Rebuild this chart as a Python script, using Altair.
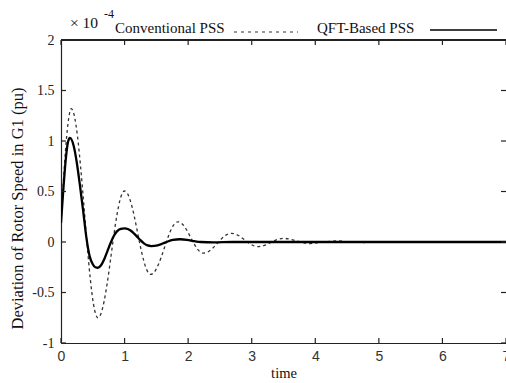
import altair as alt
import pandas as pd

# ---- data (values in units of 1e-4 pu) ----
time_conv = [0, 0.04, 0.08, 0.12, 0.16, 0.21, 0.26, 0.31, 0.36, 0.41, 0.46, 0.51, 0.58,
             0.63, 0.68, 0.73, 0.78, 0.83, 0.88, 0.93, 1.0,
             1.05, 1.10, 1.15, 1.20, 1.25, 1.30, 1.35, 1.41,
             1.47, 1.53, 1.59, 1.65, 1.71, 1.77, 1.84,
             1.89, 1.94, 1.99, 2.04, 2.09, 2.14, 2.19, 2.24,
             2.31, 2.38, 2.46, 2.53, 2.60, 2.68,
             2.75, 2.82, 2.89, 2.96, 3.03, 3.10,
             3.20, 3.30, 3.40, 3.50, 3.60, 3.71, 3.82, 3.92,
             4.13, 4.35, 4.55, 4.75, 5.0, 5.5, 6.0, 7.0]
val_conv = [0.19, 0.62, 0.98, 1.22, 1.32, 1.249, 1.044, 0.734, 0.363, -0.02, -0.36, -0.611, -0.75,
            -0.707, -0.582, -0.395, -0.17, 0.063, 0.268, 0.421, 0.505,
            0.475, 0.39, 0.262, 0.108, -0.047, -0.182, -0.277, -0.32,
            -0.296, -0.226, -0.126, -0.013, 0.091, 0.166, 0.20,
            0.188, 0.155, 0.104, 0.045, -0.014, -0.065, -0.098, -0.11,
            -0.098, -0.065, -0.012, 0.035, 0.07, 0.086,
            0.077, 0.053, 0.02, -0.013, -0.037, -0.046,
            -0.034, -0.005, 0.024, 0.036, 0.028, 0.01, -0.008, -0.015,
            0.0, 0.01, 0.0, -0.005, 0.0, 0.0, 0.0, 0.0]

time_qft = [0, 0.04, 0.08, 0.11, 0.14, 0.20, 0.25, 0.30, 0.35, 0.40, 0.45, 0.50, 0.54, 0.58,
            0.63, 0.68, 0.73, 0.78, 0.83, 0.88, 0.94, 1.0,
            1.05, 1.10, 1.15, 1.20, 1.25, 1.30, 1.35, 1.42,
            1.52, 1.60, 1.68, 1.76, 1.87, 1.98, 2.10, 2.20, 2.40, 2.70,
            3.0, 4.0, 5.0, 6.0, 7.0]
val_qft = [0.19, 0.55, 0.85, 0.99, 1.03, 0.95, 0.78, 0.55, 0.30, 0.04, -0.14, -0.22, -0.25, -0.255,
           -0.23, -0.17, -0.09, -0.01, 0.06, 0.105, 0.13, 0.135,
           0.129, 0.111, 0.083, 0.051, 0.018, -0.011, -0.031, -0.04,
           -0.033, -0.015, 0.005, 0.02, 0.027, 0.022, 0.008, 0.0, -0.004, 0.0,
           0.0, 0.0, 0.0, 0.0, 0.0]

x_ticks = [0, 1, 2, 3, 4, 5, 6, 7]
y_ticks = [-1, -0.5, 0, 0.5, 1, 1.5, 2]
series_names = ["Conventional PSS", "QFT-Based PSS"]
y_title = "Deviation of Rotor Speed in G1 (pu)"
x_title = "time"

W, H = 445, 303
SERIF = "Liberation Serif"
SANS = "Liberation Sans"

conv_df = pd.DataFrame({"t": time_conv, "v": val_conv})
qft_df = pd.DataFrame({"t": time_qft, "v": val_qft})
xt_df = pd.DataFrame({"t": x_ticks})
yt_df = pd.DataFrame({"v": y_ticks})

xscale = alt.Scale(domain=[0, 7], nice=False, zero=False)
yscale = alt.Scale(domain=[-1, 2], nice=False, zero=False)

x_axis = alt.Axis(values=x_ticks, ticks=False, grid=False, domain=True,
                  domainColor="#222", domainWidth=1.2,
                  labelFont=SANS, labelFontSize=14, labelColor="#333", labelPadding=6,
                  labelFlush=False, labelOverlap=False, labelBound=False,
                  title=x_title, titleFont=SERIF, titleFontSize=14.5,
                  titleFontWeight="normal", titleColor="#111", titlePadding=3)
y_axis = alt.Axis(values=y_ticks, ticks=False, grid=False, domain=True,
                  domainColor="#222", domainWidth=1.2,
                  labelFont=SERIF, labelFontSize=14, labelColor="#222", labelPadding=7,
                  labelFlush=False, labelOverlap=False, labelBound=False,
                  labelExpr="'' + datum.value",
                  title=y_title, titleFont=SERIF, titleFontSize=16.5,
                  titleFontWeight="normal", titleColor="#111",
                  titleX=-44, titleY=168, titleAngle=270, titleAlign="center",
                  titleBaseline="middle")

X = alt.X("t:Q", scale=xscale, axis=x_axis)
Y = alt.Y("v:Q", scale=yscale, axis=y_axis)

conv_line = alt.Chart(conv_df).mark_line(
    color="#333", strokeWidth=1.3, strokeDash=[3, 3], interpolate="monotone", clip=True
).encode(x=X, y=Y)

qft_line = alt.Chart(qft_df).mark_line(
    color="#000", strokeWidth=2.3, interpolate="monotone", clip=True
).encode(x=X, y=Y)

# inward tick marks on all four sides (MATLAB style)
tick_len = 5
xt_bottom = alt.Chart(xt_df).mark_rule(color="#222", strokeWidth=1.2).encode(
    x=X, y=alt.value(H), y2=alt.value(H - tick_len))
xt_top = alt.Chart(xt_df).mark_rule(color="#222", strokeWidth=1.2).encode(
    x=X, y=alt.value(0), y2=alt.value(tick_len))
yt_left = alt.Chart(yt_df).mark_rule(color="#222", strokeWidth=1.2).encode(
    y=Y, x=alt.value(0), x2=alt.value(tick_len))
yt_right = alt.Chart(yt_df).mark_rule(color="#222", strokeWidth=1.2).encode(
    y=Y, x=alt.value(W), x2=alt.value(W - tick_len))

top_border = alt.Chart(xt_df).mark_rule(color="#222", strokeWidth=1.2).encode(
    x=alt.value(0), x2=alt.value(W), y=alt.value(0))

one = pd.DataFrame({"k": [0]})

def label(text, x, y, size, font=SERIF):
    return alt.Chart(one).mark_text(
        align="left", baseline="alphabetic", font=font, fontSize=size, color="#111"
    ).encode(x=alt.value(x), y=alt.value(y), text=alt.value(text))

exp_main = label("\u00d7 10", 9, -12, 15.5)
exp_pow = label("-4", 43, -22, 12)
leg1 = label(series_names[0], 54, -7, 15)
leg2 = label(series_names[1], 256, -7, 15)
leg1_line = alt.Chart(one).mark_rule(color="#333", strokeWidth=1.2, strokeDash=[3, 4]).encode(
    x=alt.value(173), x2=alt.value(237), y=alt.value(-8))
leg2_line = alt.Chart(one).mark_rule(color="#000", strokeWidth=1.4).encode(
    x=alt.value(369), x2=alt.value(436), y=alt.value(-10))

chart = alt.layer(
    conv_line, qft_line, xt_bottom, xt_top, yt_left, yt_right, top_border,
    exp_main, exp_pow, leg1, leg2, leg1_line, leg2_line
).properties(
    width=W, height=H,
    autosize=alt.AutoSizeParams(type="none"),
    padding={"left": 61, "top": 40, "right": 0, "bottom": 40},
    background="white",
).configure_view(stroke=None)

chart.save("out.html", embed_options={"renderer": "svg", "actions": False})
